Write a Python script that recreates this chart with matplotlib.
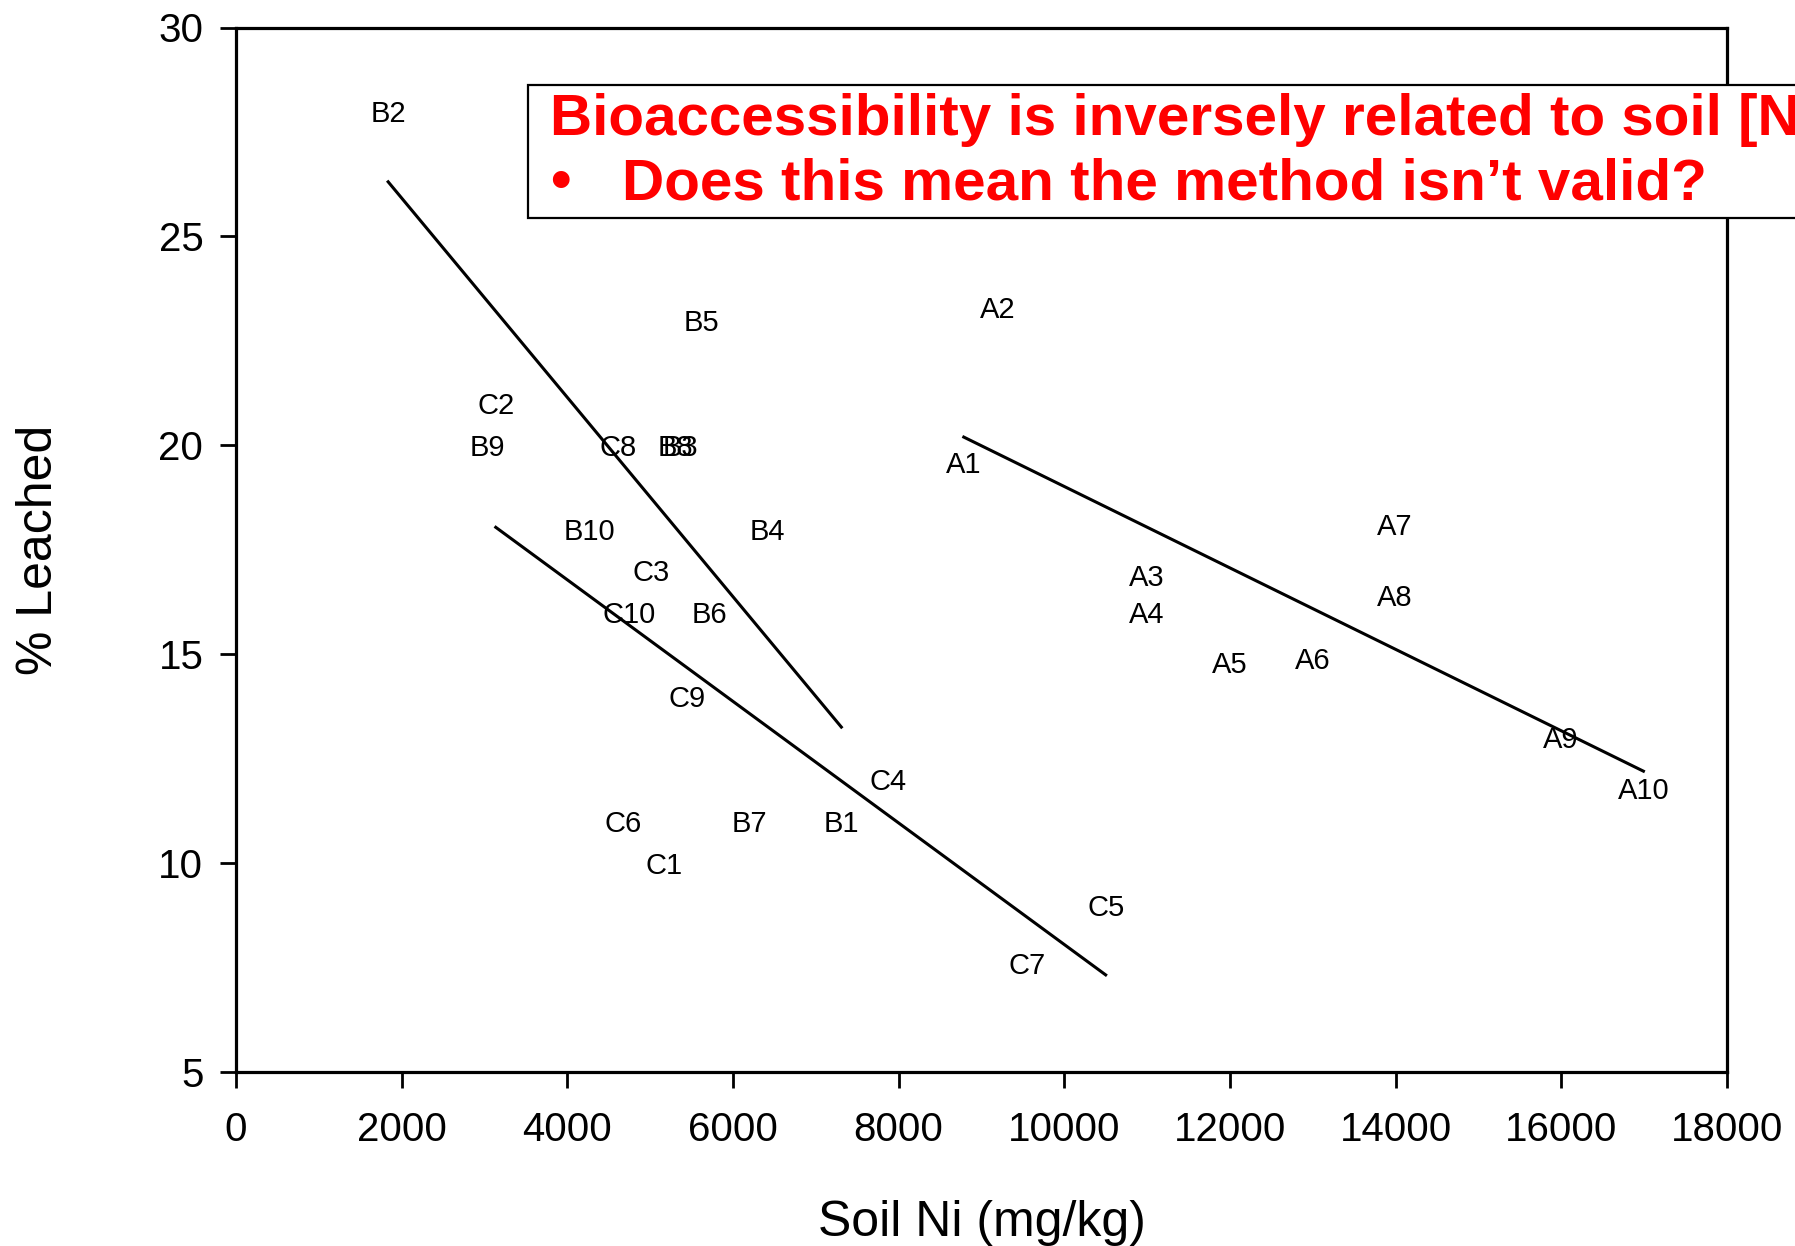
import numpy as np
import matplotlib
matplotlib.use("Agg")
import matplotlib.pyplot as plt
from matplotlib.patches import Rectangle

plt.rcParams['font.family'] = ['Liberation Sans', 'DejaVu Sans']

# Data: sample labels, soil Ni (mg/kg), % leached
a_labels = ["A1", "A2", "A3", "A4", "A5", "A6", "A7", "A8", "A9", "A10"]
a_ni = [8786, 9200, 10996, 10996, 11991, 12999, 13994, 13994, 15997, 16991]
a_leach = [19.6, 23.3, 16.9, 16.0, 14.8, 14.9, 18.1, 16.4, 13.0, 11.8]

b_labels = ["B1", "B2", "B3", "B4", "B5", "B6", "B7", "B8", "B9", "B10"]
b_ni = [7308, 1837, 5370, 6410, 5622, 5719, 6203, 5300, 3039, 4269]
b_leach = [11.0, 28.0, 20.0, 18.0, 23.0, 16.0, 11.0, 20.0, 20.0, 18.0]

c_labels = ["C1", "C2", "C3", "C4", "C5", "C6", "C7", "C8", "C9", "C10"]
c_ni = [5167, 3136, 5015, 7874, 10499, 4669, 9546, 4614, 5443, 4752]
c_leach = [10.0, 21.0, 17.0, 12.0, 9.0, 11.0, 7.6, 20.0, 14.0, 16.0]

x_ticks = [0, 2000, 4000, 6000, 8000, 10000, 12000, 14000, 16000, 18000]
y_ticks = [5, 10, 15, 20, 25, 30]

title_line1 = "Bioaccessibility is inversely related to soil [Ni]"
title_line2 = "Does this mean the method isn\u2019t valid?"

W, H = 1795, 1246
fig = plt.figure(figsize=(W / 100, H / 100), dpi=100)
ax = fig.add_axes([236 / W, 1 - 1071.6 / H, (1727 - 236) / W, (1071.6 - 27.5) / H])

for labels, xs, ys in [(a_labels, a_ni, a_leach), (b_labels, b_ni, b_leach), (c_labels, c_ni, c_leach)]:
    for lab, xv, yv in zip(labels, xs, ys):
        ax.text(xv, yv, lab, ha="center", va="center_baseline", fontsize=21, color="black")
    xs_arr = np.array(xs, dtype=float)
    ys_arr = np.array(ys, dtype=float)
    slope, icpt = np.polyfit(xs_arr, ys_arr, 1)
    xl = np.array([xs_arr.min(), xs_arr.max()])
    ax.plot(xl, slope * xl + icpt, color="black", lw=2.2)

ax.set_xlim(0, 18000)
ax.set_ylim(5, 30)
ax.set_xticks(x_ticks)
ax.set_yticks(y_ticks)
ax.set_xticklabels([str(t) for t in x_ticks])
ax.set_yticklabels([str(t) for t in y_ticks])
for s in ax.spines.values():
    s.set_linewidth(2.3)
ax.tick_params(axis="both", direction="out", length=11.5, width=2.0, labelsize=29)
ax.tick_params(axis="x", pad=17)
ax.tick_params(axis="y", pad=12)

ax.set_xlabel("Soil Ni (mg/kg)", fontsize=36)
ax.set_ylabel("% Leached", fontsize=36)
ax.xaxis.set_label_coords(0.5, -(1200 - 1071.6) / (1071.6 - 27.5))
ax.yaxis.set_label_coords(-(236 - 62) / (1727 - 236), 0.5)

# annotation box
rect = Rectangle((528 / W, 1 - 218 / H), 1.0, (218 - 85) / H, transform=fig.transFigure,
                 facecolor="white", edgecolor="black", lw=1.6, zorder=5, clip_on=False)
fig.patches.append(rect)
fig.text(550 / W, 1 - 135 / H, title_line1, color="#ff0000", fontsize=42, fontweight="bold",
         ha="left", va="baseline", zorder=6)
fig.text(550 / W, 1 - 199 / H, "\u2022", color="#ff0000", fontsize=42, fontweight="bold",
         ha="left", va="baseline", zorder=6)
fig.text(622 / W, 1 - 199 / H, title_line2, color="#ff0000", fontsize=42, fontweight="bold",
         ha="left", va="baseline", zorder=6)

fig.savefig("out.png", dpi=100)
